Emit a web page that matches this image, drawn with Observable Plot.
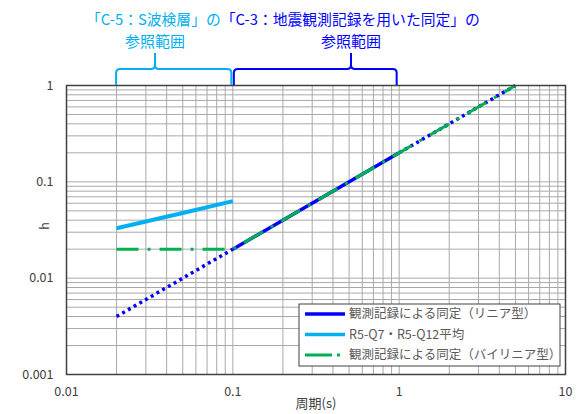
<!DOCTYPE html>
<html><head><meta charset="utf-8">
<script src="https://cdn.jsdelivr.net/npm/d3@7"></script>
<script src="https://cdn.jsdelivr.net/npm/@observablehq/plot@0.6"></script>
<style>body{margin:0;background:#fff} #chart{width:579px;height:414px}</style>
</head><body><div id="chart"></div>
<script>
// ---- data ----
const xTicks = [0.01, 0.1, 1, 10];
const yTicks = [0.001, 0.01, 0.1, 1];
// 観測記録による同定（リニア型）
const linearT = [0.02, 0.1, 1, 5];
const linearH = [0.004, 0.02, 0.2, 1];
// 観測記録による同定（バイリニア型）
const bilinearT = [0.02, 0.1, 5];
const bilinearH = [0.02, 0.02, 1];
// R5-Q7・R5-Q12平均
const avgT = [0.02, 0.05, 0.1];
const avgH = [0.033, 0.0475, 0.063];
const seriesNames = ["観測記録による同定（リニア型）", "R5-Q7・R5-Q12平均", "観測記録による同定（バイリニア型）"];
const seriesColors = ["#0000ff", "#00b0f0", "#00b050"];
// reference ranges (annotations above the chart)
const rangeFrom = [0.02, 0.1];
const rangeTo = [0.1, 1];
const rangeLine1 = ["「C-5：S波検層」の", "「C-3：地震観測記録を用いた同定」の"];
const rangeLine2 = ["参照範囲", "参照範囲"];
const rangeColors = ["#00b0f0", "#0000ff"];

const FONT = '"Noto Sans CJK JP", "Noto Sans", sans-serif';
const linear = linearT.map((T, i) => ({T, h: linearH[i]}));
const bilinear = bilinearT.map((T, i) => ({T, h: bilinearH[i]}));
const avg = avgT.map((T, i) => ({T, h: avgH[i]}));
const linLow = linear.filter(d => d.T <= 0.1);
const linMid = linear.filter(d => d.T >= 0.1 && d.T <= 1);
const linHigh = linear.filter(d => d.T >= 1);

const chart = Plot.plot({
  width: 579, height: 414,
  marginLeft: 66, marginRight: 14, marginTop: 85, marginBottom: 40,
  style: {fontFamily: FONT, fontSize: "12px", color: "#404040", background: "#fff"},
  x: {type: "log", domain: [0.01, 10]},
  y: {type: "log", domain: [0.001, 1]},
  marks: [
    Plot.gridX({stroke: "#a9a9a9", strokeOpacity: 1, strokeWidth: 1}),
    Plot.gridY({stroke: "#a9a9a9", strokeOpacity: 1, strokeWidth: 1}),
    Plot.axisX(xTicks, {tickSize: 0, tickPadding: 13, tickFormat: d => String(d), label: null, fill: "#404040", fontSize: 12.5}),
    Plot.axisY(yTicks, {tickSize: 0, tickPadding: 13, tickFormat: d => String(d), label: null, fill: "#404040", fontSize: 12.5}),
    Plot.line(avg, {x: "T", y: "h", stroke: seriesColors[1], strokeWidth: 4, strokeLinecap: "butt"}),
    Plot.line(linLow, {x: "T", y: "h", stroke: seriesColors[0], strokeWidth: 3.5, strokeDasharray: "3,3.6", strokeLinecap: "butt"}),
    Plot.line(linMid, {x: "T", y: "h", stroke: seriesColors[0], strokeWidth: 3.5, strokeLinecap: "butt"}),
    Plot.line(linHigh, {x: "T", y: "h", stroke: seriesColors[0], strokeWidth: 3.5, strokeDasharray: "3,3.6", strokeLinecap: "butt"}),
    Plot.line(bilinear, {x: "T", y: "h", stroke: seriesColors[2], strokeWidth: 3, strokeDasharray: "22,9,3,9", strokeLinecap: "butt"}),
    Plot.frame({stroke: "#404040", strokeWidth: 1.5}),
    Plot.text(["h"], {text: d => d, frameAnchor: "left", dx: -22, rotate: -90, fontSize: 13, fill: "#404040"}),
    Plot.text(["周期(s)"], {text: d => d, frameAnchor: "bottom", dy: 33, fontSize: 13, fill: "#404040"})
  ]
});
document.getElementById("chart").appendChild(chart);

// helpers from Plot's own scale
const xs = chart.scale("x");
const xPix = d3.scaleLog().domain(xs.domain).range(xs.range);
const svg = d3.select(chart);

// ---- annotations above the chart ----
const peaks = [155, 351];
const t1 = svg.append("text").attr("x", 86).attr("y", 25).attr("text-anchor", "start")
  .attr("font-family", FONT).attr("font-size", 14.8);
rangeLine1.forEach((s, i) => t1.append("tspan").attr("fill", rangeColors[i]).text(s));
rangeLine2.forEach((s, i) => {
  svg.append("text").attr("x", peaks[i]).attr("y", 47).attr("text-anchor", "middle")
    .attr("font-family", FONT).attr("font-size", 15).attr("fill", rangeColors[i]).text(s);
});
rangeFrom.forEach((f, i) => {
  const x0 = xPix(f) + (i === 0 ? 0 : 1.5), x1 = xPix(rangeTo[i]) - (i === 0 ? 1 : 2), p = peaks[i];
  const yb = 85, yh = 69, yt = 53, r = 4;
  const path = `M${x0},${yb} L${x0},${yh + r} Q${x0},${yh} ${x0 + r},${yh} L${p - r},${yh} Q${p},${yh} ${p},${yh - r} L${p},${yt}` +
    ` M${p},${yh - r} Q${p},${yh} ${p + r},${yh} L${x1 - r},${yh} Q${x1},${yh} ${x1},${yh + r} L${x1},${yb}`;
  svg.append("path").attr("d", path).attr("fill", "none").attr("stroke", rangeColors[i]).attr("stroke-width", 2);
});

// ---- legend ----
const lg = svg.append("g");
lg.append("rect").attr("x", 299).attr("y", 304).attr("width", 261).attr("height", 62)
  .attr("fill", "#fff").attr("stroke", "#404040").attr("stroke-width", 1);
const legendDash = [null, null, "27,5,3,30"];
const legendOrder = [0, 1, 2];
legendOrder.forEach((k, i) => {
  const y = 314 + i * 20.5;
  const ln = lg.append("line").attr("x1", 305).attr("x2", 345).attr("y1", y).attr("y2", y)
    .attr("stroke", seriesColors[k]).attr("stroke-width", 3.5);
  if (legendDash[k]) ln.attr("stroke-dasharray", legendDash[k]).attr("stroke-width", 3);
  lg.append("text").attr("x", 349).attr("y", y).attr("dy", "0.35em").attr("text-anchor", "start")
    .attr("font-family", FONT).attr("font-size", 12.5).attr("fill", "#595959").text(seriesNames[k]);
});
</script>
</body></html>
